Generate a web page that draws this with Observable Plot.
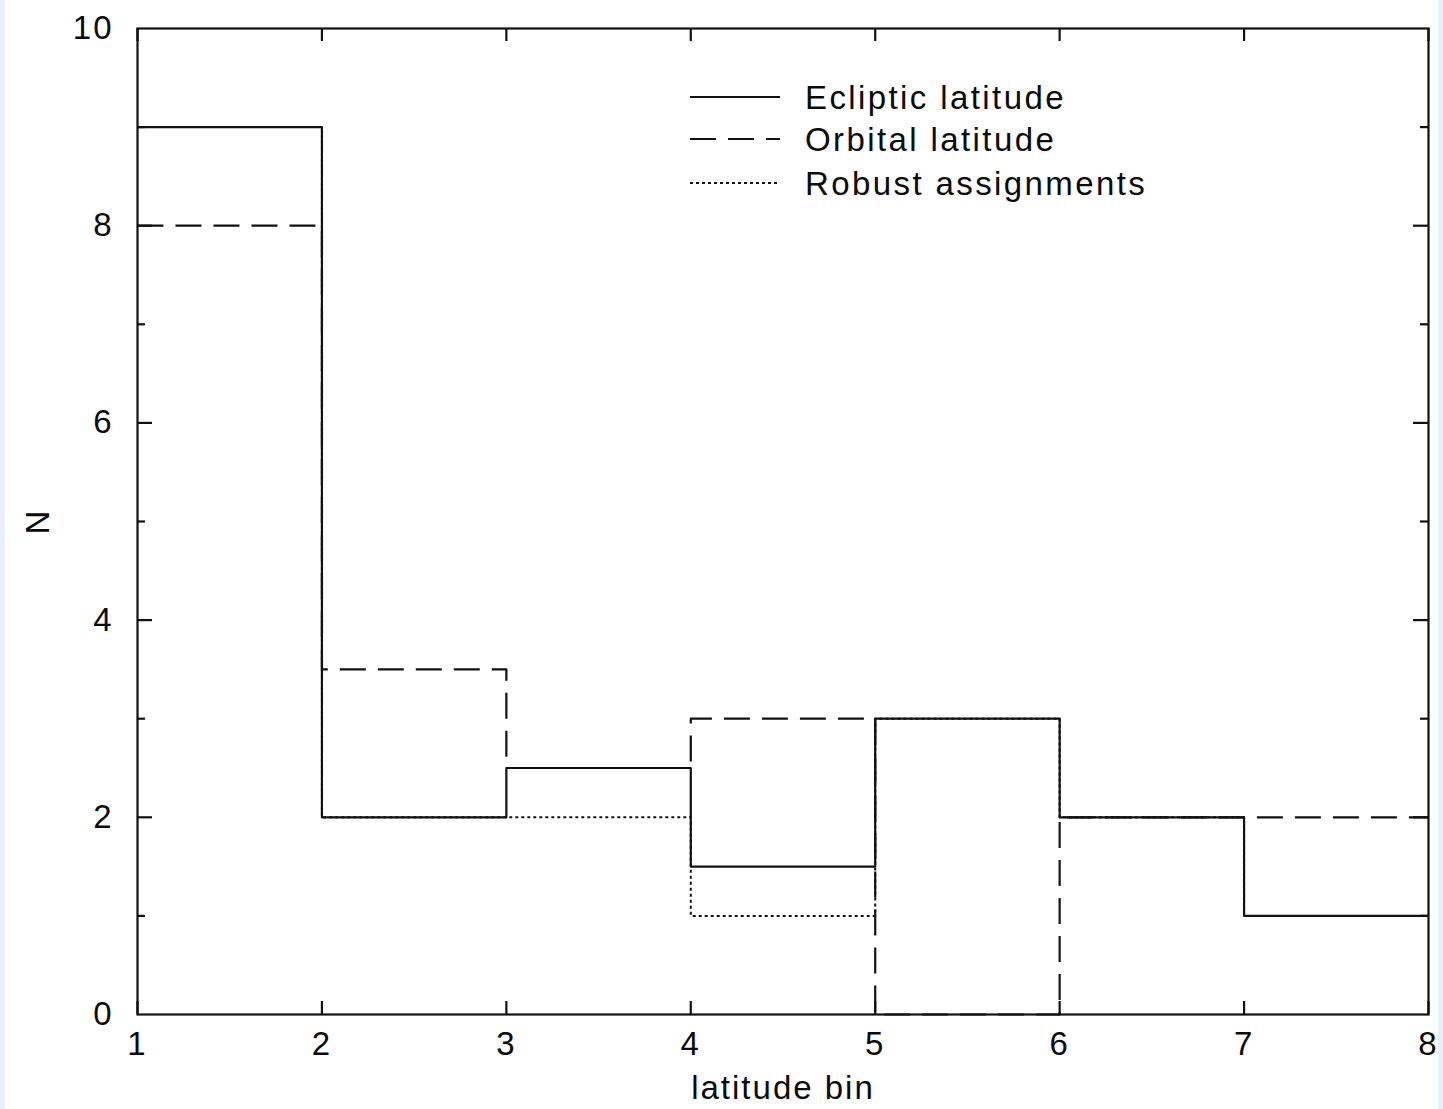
<!DOCTYPE html>
<html>
<head>
<meta charset="utf-8">
<script src="https://cdn.jsdelivr.net/npm/d3@7"></script>
<script src="https://cdn.jsdelivr.net/npm/@observablehq/plot@0.6"></script>
<style>
  html, body { margin: 0; padding: 0; background: #ffffff; }
  #wrap { position: relative; width: 1443px; height: 1109px; overflow: hidden; background: #ffffff; }
  .edgeL { position: absolute; left: 0; top: 0; width: 5px; height: 1109px; background: #e8eff8; }
  .edgeR { position: absolute; right: 0; top: 0; width: 5px; height: 1109px; background: #e8eff8; }
  #chart svg text { letter-spacing: 2px; }
  #legend { position: absolute; left: 0; top: 0; pointer-events: none; }
  #legend text { font-family: "Liberation Sans", Arial, sans-serif; font-size: 33px; fill: #0a0a0a; letter-spacing: 2.4px; }
</style>
</head>
<body>
<div id="wrap">
  <div class="edgeL"></div>
  <div class="edgeR"></div>
  <div id="chart"></div>
  <svg id="legend" width="1443" height="1109"></svg>
</div>
<script>
// ---- data ----
const binEdges = [1, 2, 3, 4, 5, 6, 7, 8];
const ecliptic = [9, 2, 2.5, 1.5, 3, 2, 1];
const orbital  = [8, 3.5, 2.5, 3, 0, 2, 2];
const robust   = [9, 2, 2, 1, 3, 2, 1];
const seriesNames = ["Ecliptic latitude", "Orbital latitude", "Robust assignments"];
const xTickValues = [1, 2, 3, 4, 5, 6, 7, 8];
const yLabelTicks = [0, 2, 4, 6, 8, 10];
const yMajorTicks = [2, 4, 6, 8];
const yMinorTicks = [1, 3, 5, 7, 9];

// ---- layout ----
const W = 1443, H = 1109;
const mL = 137, mR = 15, mT = 28, mB = 95;
const innerH = H - mT - mB;
const innerW = W - mL - mR;
const ink = "#111111";

function steps(vals) {
  return binEdges.map((e, i) => ({x: e, y: vals[Math.min(i, vals.length - 1)]}));
}

const styles = [
  {name: seriesNames[0], vals: ecliptic, dash: null, width: 2.2},
  {name: seriesNames[1], vals: orbital, dash: "26,12", width: 2.2},
  {name: seriesNames[2], vals: robust, dash: "3,3", width: 2}
];

const lineMarks = [styles[2], styles[1], styles[0]].map(s =>
  Plot.line(steps(s.vals), {x: "x", y: "y", curve: "step-after", stroke: ink,
    strokeWidth: s.width, strokeDasharray: s.dash || undefined, strokeLinecap: "butt"})
);

const chart = Plot.plot({
  width: W, height: H,
  marginLeft: mL, marginRight: mR, marginTop: mT, marginBottom: mB,
  x: {domain: [1, 8]},
  y: {domain: [0, 10]},
  style: {fontFamily: "'Liberation Sans', Arial, sans-serif", fontSize: "33px", color: "#0a0a0a", background: "transparent", overflow: "visible"},
  marks: [
    // inward ticks
    Plot.tickX(xTickValues, {x: d => d, insetTop: innerH - 13, stroke: ink, strokeWidth: 2.2}),
    Plot.tickX(xTickValues, {x: d => d, insetBottom: innerH - 13, stroke: ink, strokeWidth: 2.2}),
    Plot.tickY(yMajorTicks, {y: d => d, insetRight: innerW - 15, stroke: ink, strokeWidth: 2.2}),
    Plot.tickY(yMajorTicks, {y: d => d, insetLeft: innerW - 15, stroke: ink, strokeWidth: 2.2}),
    Plot.tickY(yMinorTicks, {y: d => d, insetRight: innerW - 8, stroke: ink, strokeWidth: 2.2}),
    Plot.tickY(yMinorTicks, {y: d => d, insetLeft: innerW - 8, stroke: ink, strokeWidth: 2.2}),
    ...lineMarks,
    Plot.frame({stroke: ink, strokeWidth: 2.2}),
    Plot.axisX({ticks: xTickValues, tickSize: 0, tickPadding: 17, tickFormat: d => String(d),
      fontSize: 33, label: "latitude bin", labelAnchor: "center", labelOffset: 84, labelArrow: "none"}),
    Plot.axisY({ticks: yLabelTicks, tickSize: 0, tickPadding: 24, tickFormat: d => String(d),
      fontSize: 33, label: "N", labelAnchor: "center", labelOffset: 112, labelArrow: "none"})
  ]
});
document.getElementById("chart").appendChild(chart);

// ---- legend (overlay, top-right inside plot) ----
const lg = d3.select("#legend");
const legendRows = [97, 139, 183];
styles.forEach((s, i) => {
  lg.append("line")
    .attr("x1", 690).attr("x2", 780)
    .attr("y1", legendRows[i]).attr("y2", legendRows[i])
    .attr("stroke", ink).attr("stroke-width", 2)
    .attr("stroke-dasharray", s.dash || null);
  lg.append("text")
    .attr("x", 805).attr("y", legendRows[i])
    .attr("dy", "0.35em")
    .text(s.name);
});
</script>
</body>
</html>
